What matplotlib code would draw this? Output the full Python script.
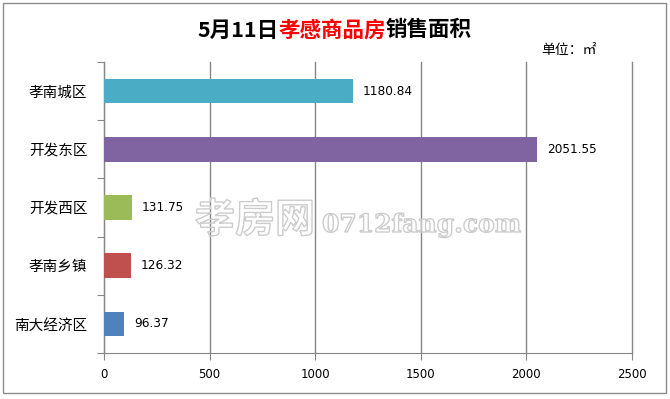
import matplotlib.pyplot as plt
from matplotlib.font_manager import FontProperties
from matplotlib.textpath import TextPath
from matplotlib.patches import PathPatch, Rectangle
from matplotlib.transforms import Affine2D

plt.rcParams['font.family'] = ['Noto Sans CJK SC', 'DejaVu Sans']

# data (top to bottom as shown)
districts = ['孝南城区', '开发东区', '开发西区', '孝南乡镇', '南大经济区']
areas = [1180.84, 2051.55, 131.75, 126.32, 96.37]
colors = ['#4BACC6', '#8064A2', '#9BBB59', '#C0504D', '#4F81BD']
xticks = [0, 500, 1000, 1500, 2000, 2500]

W, H = 670, 399
fig = plt.figure(figsize=(W / 100, H / 100), dpi=100)

# chart border
fig.patches.append(Rectangle((3 / W, 6 / H), 663 / W, 390 / H, transform=fig.transFigure,
                             fill=False, edgecolor='#8c8c8c', lw=1))

ax = fig.add_axes([104 / W, 1 - 353 / H, 528 / W, 291 / H])
pos = list(range(len(districts)))
ax.barh(pos, areas, height=0.42, color=colors, zorder=3)
ax.set_ylim(len(districts) - 0.5, -0.5)
ax.set_xlim(0, 2500)

for p, v in zip(pos, areas):
    ax.annotate(f'{v:.2f}', (v, p), xytext=(7, 0), textcoords='offset points',
                va='center', ha='left', fontsize=8.7, family=['DejaVu Sans'])

ax.set_xticks(xticks)
ax.set_xticklabels([str(t) for t in xticks], family=['DejaVu Sans'])
ax.tick_params(axis='x', direction='out', length=5, color='#868686', labelsize=8.5, pad=6)
ax.set_yticks([i - 0.5 for i in range(len(districts) + 1)])
ax.set_yticklabels([])
ax.tick_params(axis='y', which='major', direction='out', length=5, color='#868686')
ax.set_yticks(pos, minor=True)
ax.set_yticklabels(districts, minor=True, fontsize=10.5)
ax.tick_params(axis='y', which='minor', length=0, pad=12)

ax.grid(axis='x', color='#868686', lw=1, zorder=1)
for gl in ax.get_xgridlines():
    gl.set_clip_on(False)
for s in ['top', 'right']:
    ax.spines[s].set_visible(False)
for s in ['left', 'bottom']:
    ax.spines[s].set_color('#868686')

# title with red middle part
fp = dict(fontsize=15.5, fontweight='bold', va='center')
t1 = fig.text(197 / W, 1 - 30 / H, '5月11日', color='black', **fp)
fig.canvas.draw()
bb = t1.get_window_extent()
t2 = fig.text(bb.x1 / W, 1 - 30 / H, '孝感商品房', color='#ff0000', **fp)
fig.canvas.draw()
bb = t2.get_window_extent()
fig.text(bb.x1 / W, 1 - 30 / H, '销售面积', color='black', **fp)

fig.text(541 / W, 1 - 50 / H, '单位：㎡', fontsize=10, va='center')

# outlined watermark
wm = [('孝房网', 195, 40, 'Noto Sans CJK SC', 'bold'),
      ('0712fang.com', 322, 25, 'DejaVu Serif', 'bold')]
for txt, x0, size, fam, wt in wm:
    tp = TextPath((0, 0), txt, size=size, prop=FontProperties(family=fam, weight=wt))
    tr = Affine2D().translate(x0, H - 232)
    fig.patches.append(PathPatch(tr.transform_path(tp), transform=None,
                                 facecolor='none', edgecolor='#cccccc', lw=1, zorder=5))

fig.savefig('out.png', dpi=100)
